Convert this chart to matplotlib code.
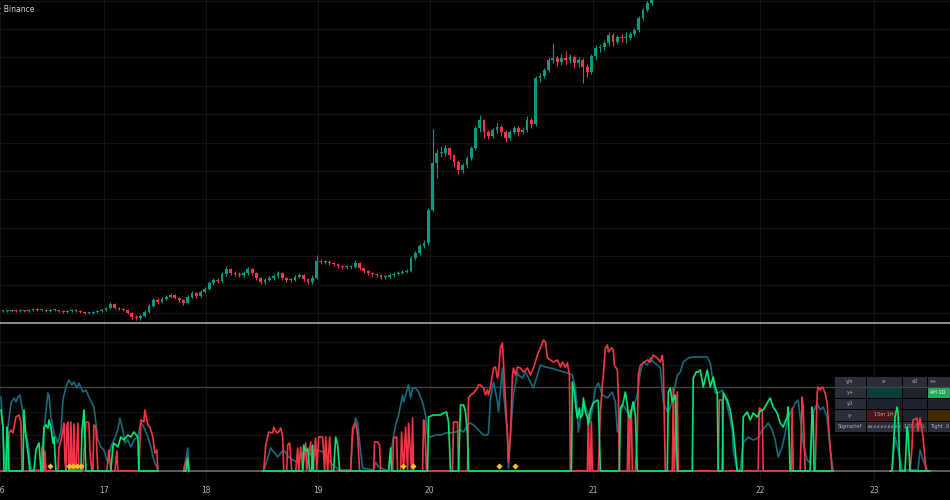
import matplotlib
matplotlib.use('Agg')
import matplotlib.pyplot as plt
import numpy as np
from matplotlib.patches import Rectangle
from matplotlib.lines import Line2D

# ---- price pane (1h candles, arbitrary price units) ----
closes = [11,11,12,11,12,11,12,13,12,12, 11,12,12,11,10,11,12,11,10,9,
          9,10,11,12,14,18,14,13,12,9, 5,4,6,10,16,22,20,23,25,27,
          24,22,19,25,29,26,30,33,39,42, 41,48,53,49,48,47,49,53,49,44,
          40,42,44,46,49,44,42,42,45,47, 43,40,44,61,60,60,59,58,56,55,
          55,55,59,54,51,49,48,47,45,45, 47,48,49,50,51,64,69,76,79,112,
          159,169,169,174,167,160,152,157,164,174, 194,202,190,186,192,195,190,184,190,194,
          190,192,202,198,244,246,252,262,264,260, 264,262,265,259,262,255,250,266,274,275,
          279,287,280,285,284,284,288,292,304,312, 319,327]
highs = [12,12,13,13,13,12,13,14,14,13, 13,13,13,12,12,12,13,13,12,11,
         10,11,12,13,15,20,19,15,14,13, 10,7,8,12,18,24,24,25,27,29,
         28,25,23,27,31,30,32,35,41,44, 44,50,56,54,51,50,51,55,54,50,
         45,44,46,48,51,50,45,44,47,49, 48,44,47,67,63,62,62,60,59,57,
         57,57,62,60,55,52,50,49,48,47, 49,50,51,52,53,66,71,78,82,114,
         193,173,176,177,175,168,162,159,166,176, 196,207,203,192,194,200,197,192,192,196,
         196,195,206,204,246,249,254,265,279,266, 268,271,268,267,265,264,258,268,277,278,
         282,290,289,287,288,290,290,294,306,314, 321,330]
lows = [10,10,10,10,10,10,10,11,11,11, 10,10,11,10,9,9,10,10,9,8,
        8,8,9,10,11,13,13,12,11,8, 3,2,2,5,9,15,18,19,22,24,
        23,20,17,18,24,24,25,29,32,37, 39,40,46,47,46,45,45,47,47,42,
        38,38,41,42,44,42,40,40,41,44, 41,38,38,43,58,58,57,56,54,53,
        53,53,54,52,49,47,46,45,43,43, 44,45,47,48,49,50,62,67,74,77,
        110,144,165,166,163,155,148,149,154,162, 172,190,184,183,184,189,186,180,182,188,
        186,188,190,194,196,240,244,250,259,256, 257,258,259,254,255,239,245,248,262,270,
        272,276,276,278,280,279,282,286,290,302, 310,317]

# ---- indicator pane: three lines, None = no value ----
red_pts = [(0,0),(5,0),(7,1),(8,38),(10,41),(12,38),(13,44),(15,54),(18,56),(20,48),(21,0),
           (40,0),(41,24),(42,0),(43,0),(44,20),(45,0),(57,0),(58,24),(60,30),(62,41),(63,48),
           (64,10),(65,0),(66,45),(67,49),(68,0),(69,0),(70,49),(71,0),(72,0),(73,47),(74,0),
           (75,0),(77,48),(78,0),(82,0),(85,49),(87,49),(88,48),(89,20),(91,0),(92,0),(93,46),
           (95,44),(96,20),(97,0),(106,0),(108,21),(110,0),(114,0),(116,20),(117,0),(138,0),
           (140,51),(143,49),(144,61),(147,46),(149,44),(152,34),(154,18),(156,21),(157,0),
           None,
           (183,0),(184,6),(186,11),(188,0),
           None,
           (262,0),(263,0),(265,26),(268,39),(272,38),(273,44),(276,38),(278,39),(280,43),
           (282,34),(283,0),(286,0),(287,26),(289,28),(291,0),(295,0),(297,23),(298,0),(300,24),
           (302,0),(305,28),(306,0),(310,29),(312,0),(315,33),(316,0),(318,34),(322,34),(324,0),
           (325,34),(327,0),(329,34),(331,0),(350,0),(352,43),(355,48),(357,36),(359,0),(373,0),
           (374,29),(377,29),(379,26),(380,0),(392,0),(393,33),(396,34),(397,0),(400,0),(401,39),
           (403,0),(405,44),(407,0),(408,48),(411,0),(412,53),(413,0),(422,0),(423,51),(424,49),
           (426,0),(452,0),(453,49),(457,49),(458,0),(467,0),(468,73),(470,76),(473,78),(477,83),
           (478,86),(480,86),(483,83),(485,76),(487,81),(488,76),(490,84),(493,103),(495,104),
           (497,93),(498,98),(500,123),(502,128),(503,109),(505,69),(507,36),(508,9),(510,36),
           (512,96),(513,103),(515,96),(517,104),(520,103),(523,99),(527,103),(530,96),(533,103),
           (537,116),(540,123),(543,131),(545,129),(547,113),(550,111),(553,109),(557,111),
           (560,104),(562,109),(565,104),(567,108),(569,96),(570,0),(587,0),(588,56),(589,0),
           (590,0),(591,49),(592,0),(598,0),(600,59),(602,86),(603,96),(605,123),(607,126),
           (608,119),(611,123),(613,121),(614,106),(617,101),(618,74),(619,0),(627,0),(628,59),
           (629,0),(630,61),(631,59),(632,0),(635,0),(637,36),(638,96),(640,106),(643,108),
           (647,111),(650,109),(653,116),(657,113),(660,109),(662,116),(663,106),(665,0),(672,0),
           (673,83),(674,0),(677,79),(678,0),(718,0),(719,71),(722,71),(723,0),(758,0),(759,63),
           (762,61),(763,0),(791,0),(792,63),(793,0),(800,0),(802,74),(803,64),(805,0),(815,0),
           (817,78),(818,84),(820,81),(822,84),(823,83),(825,78),(827,68),(829,38),(832,0),(833,0),
           None,
           (910,0),(912,24),(913,51),(917,53),(918,40),(920,53),(923,34),(926,0),(927,0)]

green_pts = [(0,61),(2,44),(3,0),(5,0),(6,44),(7,30),(8,0),(22,0),(23,61),(25,34),(27,18),(29,0),
             (33,0),(35,21),(37,26),(38,28),(40,0),(42,0),(43,44),(45,46),(47,43),(48,51),(50,44),
             (52,28),(53,34),(55,0),(80,0),(81,40),(82,49),(83,61),(84,30),(85,0),(110,0),(112,24),
             (113,28),(117,24),(120,34),(123,31),(127,36),(130,34),(133,39),(137,34),(138,0),(157,0),
             None,
             (183,0),(185,0),(187,13),(188,0),
             None,
             (262,0),(302,0),(303,26),(305,20),(307,22),(309,0),(311,0),(312,26),(313,0),(333,0),
             (335,34),(337,26),(339,0),(388,0),(390,23),(391,0),(427,0),(428,54),(433,56),(440,56),
             (443,58),(446,59),(448,49),(450,0),(458,0),(460,66),(463,66),(465,59),(467,36),(468,0),
             (571,0),(572,89),(574,79),(576,59),(577,53),(579,63),(580,53),(582,56),(583,73),
             (585,59),(587,53),(588,46),(590,61),(593,68),(597,71),(598,69),(600,0),(619,0),
             (620,63),(622,66),(623,69),(625,79),(627,66),(628,56),(630,53),(632,66),(633,69),
             (635,56),(637,0),(667,0),(668,79),(670,83),(672,69),(675,76),(677,0),(692,0),(693,93),
             (696,99),(698,99),(700,101),(703,84),(707,101),(710,84),(713,94),(715,84),(717,78),
             (718,0),(722,0),(723,78),(727,71),(730,61),(733,41),(737,0),(742,0),(743,54),(747,59),
             (750,51),(753,58),(757,54),(760,60),(763,61),(767,68),(770,73),(773,64),(777,58),
             (780,48),(783,44),(787,54),(788,64),(790,0),(810,0),(812,64),(813,54),(814,0),(833,0),
             None,
             (890,0),(892,0),(895,54),(897,64),(898,58),(900,0),(905,0),(907,44),(908,38),(910,0),(930,0)]

teal_pts = [(0,74),(3,21),(5,1),(7,44),(10,68),(13,73),(15,69),(17,74),(19,76),(21,64),(23,44),
            (27,28),(30,1),(40,1),(42,30),(45,60),(47,78),(48,76),(50,54),(53,38),(57,28),(60,40),
            (62,71),(65,84),(68,91),(71,86),(73,89),(76,83),(78,88),(82,79),(85,81),(88,74),(91,68),
            (93,64),(95,48),(97,31),(100,24),(103,21),(107,8),(110,24),(113,31),(117,41),(119,53),
            (122,41),(124,28),(127,31),(130,24),(133,31),(137,34),(140,49),(143,44),(147,34),
            (150,24),(153,11),(157,1),
            None,
            (183,1),(187,23),(188,1),
            None,
            (263,0),(270,23),(273,19),(277,14),(280,18),(283,21),(288,14),(292,11),(297,9),(300,14),
            (303,19),(307,23),(310,16),(313,13),(317,21),(322,19),(325,16),(328,11),(332,6),(335,4),
            (338,1),(350,1),(352,36),(355,53),(357,48),(360,19),(362,3),(373,1),(375,9),(378,4),
            (388,0),(392,29),(395,46),(398,56),(402,76),(403,69),(407,83),(408,86),(410,73),(412,83),
            (415,83),(418,79),(422,69),(425,56),(427,36),(430,34),(435,36),(440,36),(445,38),
            (450,38),(455,39),(460,41),(463,39),(467,46),(470,48),(473,46),(480,39),(483,36),
            (487,36),(488,38),(490,73),(493,89),(497,69),(498,59),(502,103),(503,79),(507,36),
            (508,3),(510,36),(513,76),(517,99),(518,96),(522,93),(525,99),(530,89),(533,83),
            (537,96),(540,106),(545,104),(550,103),(557,101),(563,99),(568,98),(572,96),(575,83),
            (577,59),(578,39),(580,53),(583,69),(587,59),(590,49),(595,83),(598,88),(602,76),
            (607,73),(612,79),(615,69),(617,39),(620,59),(623,66),(627,59),(630,56),(633,63),
            (637,76),(640,99),(643,109),(647,106),(650,113),(653,109),(657,106),(660,103),(663,69),
            (667,59),(670,63),(673,76),(677,96),(680,99),(683,109),(688,113),(693,114),(700,114),
            (707,114),(710,108),(713,88),(715,78),(718,78),(722,81),(725,74),(728,61),(732,41),
            (733,21),(737,1),(740,1),(743,28),(748,34),(753,31),(758,33),(762,41),(765,44),
            (768,48),(772,41),(775,31),(778,14),(782,24),(785,38),(788,54),(792,61),(795,68),
            (798,71),(800,54),(803,28),(807,11),(810,8),(813,58),(817,68),(820,61),(823,64),
            (827,54),(830,21),(833,1),
            None,
            (892,1),(895,34),(898,21),(902,1),(918,1),(920,21),(923,11),(927,1)]

signal_x = [49, 68, 72, 76, 80, 402, 412, 499, 515]
level = 84

day_pos = [-1, 103, 205, 317, 429, 593, 760, 874]
day_labels = ['16', '17', '18', '19', '20', '21', '22', '23']

table_rows = ['y/x', 'y+', 'y0', 'y-', 'Sigma/ref']
table_cols = ['x-', 'x0', 'x+']
table_text = [['', '', '4H 1D'],
              ['', '', ''],
              ['15m 1H', '', ''],
              ['##########', '100.0 %', 'Tight .0']]


def split(pts):
    xs = [np.nan if p is None else p[0] for p in pts]
    ys = [np.nan if p is None else p[1] for p in pts]
    return np.array(xs, float), np.array(ys, float)


UP = '#089981'
DOWN = '#f23645'
TXT = '#b2b5be'
GRID = '#131313'

fig = plt.figure(figsize=(9.5, 5), dpi=100, facecolor='black')
ax1 = fig.add_axes([0, 1 - 322 / 500, 1, 322 / 500], facecolor='black')
ax2 = fig.add_axes([0, 1 - 482 / 500, 1, (482 - 324) / 500], facecolor='black')

for ax in (ax1, ax2):
    ax.set_xlim(0, 950)
    for s in ax.spines.values():
        s.set_visible(False)
    ax.set_xticks(day_pos)
    ax.grid(True, color=GRID, lw=0.8)
    ax.set_axisbelow(True)
    ax.tick_params(length=0, labelleft=False)

ax1.set_ylim(0, 322)
ax1.set_yticks(np.arange(9, 322, 28.4))
ax1.tick_params(labelbottom=False)

# candles
c = np.array(closes, float)
o = np.concatenate([[c[0]], c[:-1]])
h = np.array(highs, float)
l = np.array(lows, float)
x = 2 + 4.3 * np.arange(len(c))
col = np.where(c >= o, UP, DOWN)
ax1.vlines(x, l, h, colors=col, lw=0.8)
ax1.bar(x, np.maximum(np.abs(c - o), 0.8), bottom=np.minimum(o, c), width=2.8, color=col, lw=0)

fig.text(-1 / 950, 1 - 9 / 500, '· Binance', color='#d1d4dc', fontsize=5.5, va='center')
fig.add_artist(Line2D([0, 1], [1 - 323 / 500] * 2, color='#8c8c8c', lw=1.4))

# indicator
ax2.set_ylim(-11, 147)
ax2.set_yticks([13, 36, 59, 106, 129])
ax2.set_xticks(day_pos, day_labels)
ax2.tick_params(axis='x', colors=TXT, labelsize=5.5, pad=3)
ax2.axhline(0, color='#6a6d78', lw=1.2, zorder=2)
ax2.axhline(level, color='#444444', lw=1.0, zorder=2)

# table (under the lines)
tx = [834, 866, 902, 927, 975]
ty = [95, 84, 73, 62, 50, 39]
cell_col = [['#2a2e39', '#2a2e39', '#2a2e39', '#2a2e39'],
            ['#2a2e39', '#0b3d3a', '#1e222d', '#22ab5c'],
            ['#2a2e39', '#1e222d', '#1e222d', '#1e222d'],
            ['#2a2e39', '#4d1419', '#1e222d', '#3d2800'],
            ['#2a2e39', '#2a2e39', '#2a2e39', '#2a2e39']]
for r in range(5):
    for k in range(4):
        ax2.add_patch(Rectangle((tx[k] + 0.5, ty[r + 1] + 0.5), tx[k + 1] - tx[k] - 1,
                                ty[r] - ty[r + 1] - 1, color=cell_col[r][k], lw=0, zorder=3))
        if k == 0:
            s = table_rows[r]
        elif r == 0:
            s = table_cols[k - 1]
        else:
            s = table_text[r - 1][k - 1]
        cx = (tx[k] + tx[k + 1]) / 2 if k < 3 else 930
        fs = 3.0 if s.startswith('#') else 3.6
        ax2.text(cx, (ty[r] + ty[r + 1]) / 2, s, color='white' if cell_col[r][k] == '#22ab5c' else TXT,
                 fontsize=fs, ha='center' if k < 3 else 'left', va='center', zorder=4, clip_on=True)

for pts, color in [(teal_pts, '#176a7c'), (red_pts, '#f23645'), (green_pts, '#00e676')]:
    xs, ys = split(pts)
    ax2.plot(xs, ys, color=color, lw=1.2, zorder=5)

ax2.scatter(signal_x, [5] * len(signal_x), marker='D', s=10, color='#f0c020', lw=0, zorder=6)

fig.savefig('out.png', dpi=100, facecolor='black')
